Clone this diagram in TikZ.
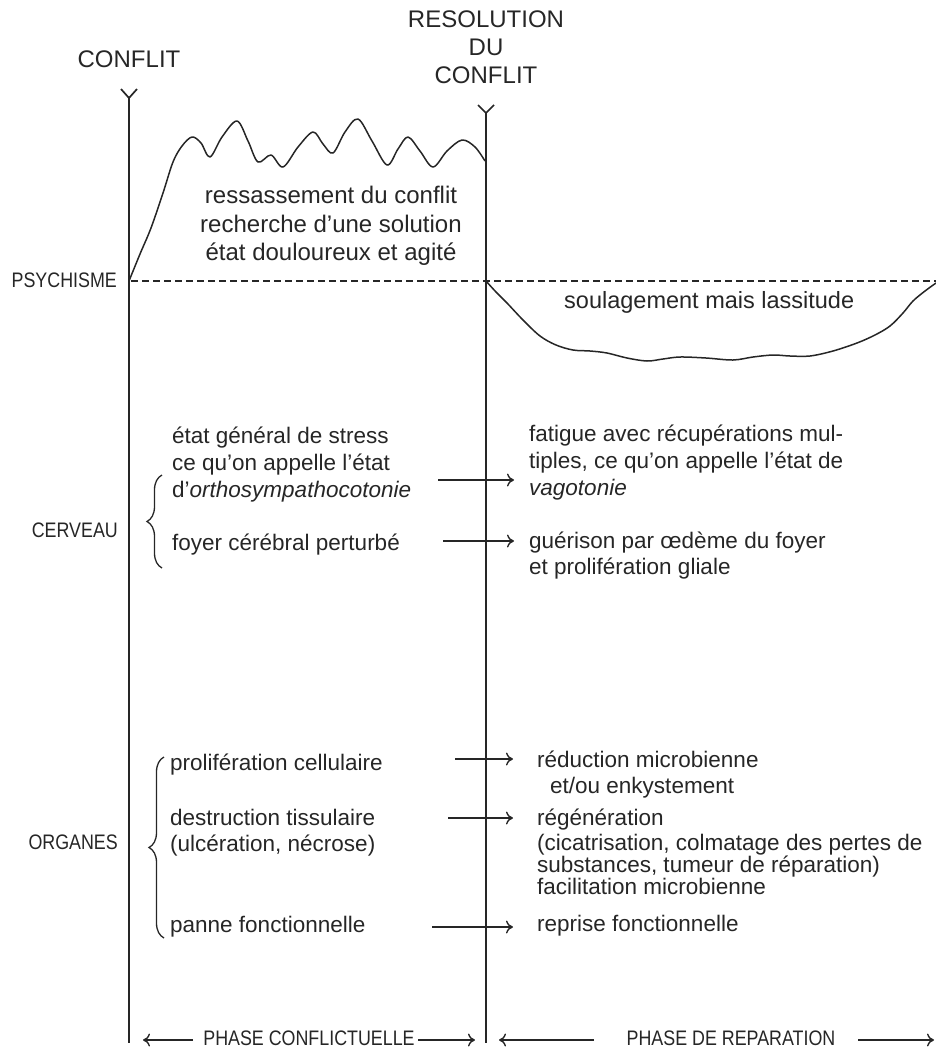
\documentclass[tikz,border=0pt]{standalone}
\usepackage{fontspec}
\setmainfont{Liberation Sans}
\newfontfamily\etroit[FakeStretch=0.85]{Liberation Sans}
\usetikzlibrary{arrows.meta}
\usetikzlibrary{decorations.pathreplacing}

\newcommand{\corps}{\fontsize{22.5}{27}\selectfont}
\newcommand{\grand}{\fontsize{24}{28}\selectfont}
\newcommand{\rubrique}{\etroit\fontsize{21}{25}\selectfont}

\begin{document}
\begin{tikzpicture}[x=1pt,y=-1pt,
    trait/.style={line width=1.4pt, black!85},
    courbe/.style={line width=1.5pt, black!85, line join=round},
    fleche/.style={line width=1.2pt, black!85, -{Computer Modern Rightarrow[length=7pt,width=13pt,line width=1.4pt]}},
    accolade/.style={line width=1.3pt, black!85, decorate, decoration={brace, amplitude=15pt}},
    texte/.style={anchor=base west, inner sep=0pt, text=black!85, font=\corps},
    titre/.style={anchor=base, inner sep=0pt, text=black!85, font=\grand},
    rubrique/.style={anchor=base east, inner sep=0pt, text=black!85, font=\rubrique},
    phase/.style={anchor=base, inner sep=0pt, text=black!85, font=\rubrique}]
    \useasboundingbox (0,0) rectangle (936,1050);

    % titres du haut
    \node[titre] (conflit) at (129,67) {CONFLIT};
    \node[titre] (resolution) at (486,27) {RESOLUTION};
    \node[titre] (du) at (486,55) {DU};
    \node[titre] (conflitb) at (486,83) {CONFLIT};

    % les deux axes
    \coordinate (hautG) at (129,98);
    \coordinate (basG) at (129,1043);
    \coordinate (hautD) at (486,113);
    \coordinate (basD) at (486,1043);
    \draw[trait, line width=1.7pt] (121,89) -- (hautG) -- (137,89);
    \draw[trait, line width=1.7pt] (478,105) -- (hautD) -- (494,105);
    \draw[trait] (hautG) -- (basG);
    \draw[trait] (hautD) -- (basD);

    % psychisme
    \node[rubrique] (psychisme) at (117,287) {PSYCHISME};
    \coordinate (niveauG) at (131,281);
    \coordinate (niveauD) at (936,281);
    \draw[line width=1.2pt, black!85, dash pattern=on 7pt off 4pt] (niveauG) -- (niveauD);

    \draw[courbe] plot[smooth, tension=0.55] coordinates {
        (129,281) (140,254) (151,228) (163,193) (173,162) (182,146) (192,137)
        (201,143) (210,157) (222,137) (237,121) (248,141) (258,162) (271,155)
        (283,167) (298,147) (313,132) (323,144) (333,153) (345,132) (358,119)
        (372,141) (387,165) (398,149) (408,137) (420,151) (433,167) (447,151)
        (462,140) (475,147) (485,161)};
    \draw[courbe] plot[smooth, tension=0.55] coordinates {
        (486,281) (496,292) (507,303) (523,320) (540,336) (556,345) (573,350)
        (590,351) (607,353) (627,358) (647,361) (663,359) (680,357) (706,358)
        (733,360) (753,357) (773,355) (790,356) (810,356) (833,351) (857,343)
        (875,335) (890,326) (903,313) (913,301) (925,291) (936,283)};

    \node[titre] (ressas) at (331,203) {ressassement du conflit};
    \node[titre] (recherche) at (331,232) {recherche d’une solution};
    \node[titre] (etat) at (331,260) {état douloureux et agité};
    \node[texte, font=\fontsize{23.5}{28}\selectfont] (soulag) at (564,308) {soulagement mais lassitude};

    % cerveau
    \node[rubrique] (cerveau) at (118,537) {CERVEAU};
    \draw[accolade] (162,568) -- (162,475);
    \node[texte] (stress) at (172,443) {état général de stress};
    \node[texte] (appelle) at (172,470) {ce qu’on appelle l’état};
    \node[texte] (ortho) at (172,497) {d’\textit{orthosympathocotonie}};
    \node[texte] (foyer) at (172,550) {foyer cérébral perturbé};

    \node[texte] (fatigue) at (529,441) {fatigue avec récupérations mul-};
    \node[texte] (tiples) at (529,468) {tiples, ce qu’on appelle l’état de};
    \node[texte] (vago) at (529,495) {\textit{vagotonie}};
    \node[texte] (guerison) at (529,548) {guérison par œdème du foyer};
    \node[texte] (gliale) at (529,574) {et prolifération gliale};

    \coordinate (f1a) at (438,480);
    \coordinate (f1b) at (514,480);
    \coordinate (f2a) at (443,541);
    \coordinate (f2b) at (514,541);
    \draw[fleche] (f1a) -- (f1b);
    \draw[fleche] (f2a) -- (f2b);

    % organes
    \node[rubrique] (organes) at (118,849) {ORGANES};
    \draw[accolade] (164,938) -- (164,757);
    \node[texte] (prolif) at (170,770) {prolifération cellulaire};
    \node[texte] (destruc) at (170,825) {destruction tissulaire};
    \node[texte] (ulcer) at (170,851) {(ulcération, nécrose)};
    \node[texte] (panne) at (170,932) {panne fonctionnelle};

    \node[texte] (reduc) at (537,767) {réduction microbienne};
    \node[texte] (enkyst) at (550,793) {et/ou enkystement};
    \node[texte] (regen) at (537,825) {régénération};
    \node[texte] (cicat) at (537,850) {(cicatrisation, colmatage des pertes de};
    \node[texte] (subst) at (537,872) {substances, tumeur de réparation)};
    \node[texte] (facil) at (537,894) {facilitation microbienne};
    \node[texte] (reprise) at (537,931) {reprise fonctionnelle};

    \coordinate (f3a) at (455,759);
    \coordinate (f3b) at (513,759);
    \coordinate (f4a) at (448,818);
    \coordinate (f4b) at (513,818);
    \coordinate (f5a) at (432,927);
    \coordinate (f5b) at (513,927);
    \draw[fleche] (f3a) -- (f3b);
    \draw[fleche] (f4a) -- (f4b);
    \draw[fleche] (f5a) -- (f5b);

    % phases
    \node[phase] (phaseA) at (309,1045) {PHASE CONFLICTUELLE};
    \node[phase] (phaseB) at (731,1045) {PHASE DE REPARATION};
    \coordinate (pA1) at (193,1040);
    \coordinate (pA2) at (143,1040);
    \coordinate (pA3) at (418,1040);
    \coordinate (pA4) at (475,1040);
    \coordinate (pB1) at (594,1040);
    \coordinate (pB2) at (499,1040);
    \coordinate (pB3) at (858,1040);
    \coordinate (pB4) at (934,1040);
    \draw[fleche] (pA1) -- (pA2);
    \draw[fleche] (pA3) -- (pA4);
    \draw[fleche] (pB1) -- (pB2);
    \draw[fleche] (pB3) -- (pB4);
\end{tikzpicture}
\end{document}
